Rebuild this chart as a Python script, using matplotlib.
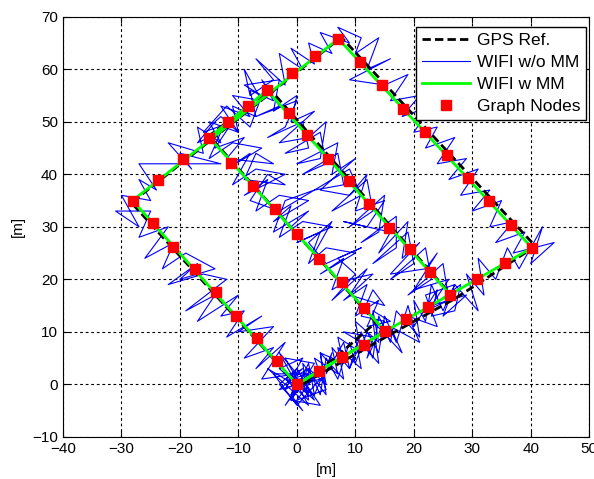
import matplotlib
matplotlib.use('Agg')
import matplotlib.pyplot as plt
import numpy as np

plt.rcParams['font.family'] = ['Liberation Sans', 'DejaVu Sans']

# Graph nodes (red squares)
node_x = [0, -3.4, -6.9, -10.4, -13.9, -17.4, -21.2, -24.6, -28.1,
          -23.7, -19.4, -15.0, -11.7, -8.4, -5.1, -0.8, 3.1, 7.1,
          10.8, 14.6, 18.2, 21.9, 25.6, 29.2, 32.9, 36.7, 40.2,
          35.6, 30.8, 26.2, 22.5, 18.7, 15.1, 11.5, 7.7, 3.8,
          -11.3, -7.5, -3.8, 0.0, 3.8, 7.7, 11.5,
          -1.4, 1.8, 5.4, 9.0, 12.3, 15.8, 19.4, 22.7]
node_y = [0, 4.4, 8.9, 13.1, 17.5, 21.9, 26.1, 30.7, 35.0,
          39.0, 42.9, 47.0, 50.0, 53.0, 56.0, 59.3, 62.5, 65.8,
          61.4, 57.0, 52.5, 48.1, 43.7, 39.2, 34.9, 30.4, 26.0,
          23.1, 20.1, 17.1, 14.7, 12.4, 10.1, 7.4, 5.2, 2.5,
          42.2, 37.8, 33.3, 28.6, 23.8, 19.4, 14.6,
          51.6, 47.4, 43.0, 38.7, 34.4, 29.8, 25.7, 21.3]

# map-matched route (green), corner to corner along the graph
mm_x = [0, -28.1, 7.1, 40.2, 26.2, 15.1, 0, 15.1, -15.0, -5.1, 26.2]
mm_y = [0, 35.0, 65.8, 26.0, 17.1, 10.1, 0, 10.1, 47.0, 56.0, 17.1]

# GPS reference (black dashed)
gps_x = [0.3, -28.3, 7.6, 40.8, 27.0, 15.5, 0.3, 7.0, 13.5, -15.0, -4.6, 26.8]
gps_y = [-0.4, 34.6, 66.1, 26.3, 16.3, 9.2, -0.4, 5.5, 11.8, 47.3, 56.2, 16.5]

# raw WIFI positions without map matching (blue), one list per leg of the walk
# start tangle + left edge
leg1_x = [0, 3, -2, 1, -3, 4, 0, -4, 2, -1, 3, -2, 1, -5, 2, -3, 0, -6, -2, -7,
          -4, -9, -4, -10, -6, -12, -9, -13, -10, -17, -14, -19, -12, -16, -22,
          -17, -20, -14, -19, -23, -21, -26, -22, -27, -25, -31, -27, -30, -25, -27]
leg1_y = [0, -2, 1, 3, -1, 1, -4, 2, 2, -3, 4, 5, -1, 3, -4, 6, 2, 1, 8, 3,
          7, 5, 11, 10, 13, 9, 14, 13, 17, 12, 17, 14, 20, 21, 19,
          23, 20, 22, 25, 22, 27, 24, 30, 28, 33, 33, 30, 36, 35, 39]
# top-left edge
leg2_x = [-24, -27, -13, -20, -18, -22, -16, -17, -13, -15, -10, -13, -8, -11,
          -6, -9, -8, -4, -7, -2, -3, 1, -1, 3, 2, 6, 4, 9, 7, 11]
leg2_y = [37, 42, 42, 44, 41, 46, 44, 49, 46, 50, 48, 53, 51, 55,
          54, 60, 55, 58, 62, 57, 63, 60, 64, 61, 65, 63, 67, 65, 68, 66]
# top-right edge
leg3_x = [10, 14, 12, 16, 9, 15, 19, 16, 21, 18, 23, 20, 24, 22, 27, 24, 29, 26,
          31, 28, 33, 30, 35, 33, 37, 34, 39, 37, 44, 40, 42]
leg3_y = [63, 66, 60, 62, 58, 57, 59, 54, 55, 51, 53, 48, 49, 45, 47, 42, 43, 39,
          41, 36, 37, 33, 35, 30, 31, 27, 29, 25, 27, 23, 30]
# bottom edge back to the start
leg4_x = [38, 36, 34, 31, 32, 29, 31, 27, 25, 23, 22, 20, 21, 17, 16, 14, 13, 11,
          9, 8, 5, 6, 3, 2, -1, 4, 1, -2, 2, -1]
leg4_y = [22, 26, 20, 24, 17, 21, 14, 19, 14, 19, 12, 16, 9, 14, 8, 13, 5, 10,
          3, 8, 2, 6, -2, 4, -3, -4, 1, -4, 2, 1]
# second loop: out to the lower diagonal, up it
leg5_x = [2, 5, 4, 8, 7, 11, 10, 14, 13, 16, 12, 14, 10, 12, 8, 13, 9, 6, 8, 4,
          10, 5, 2, 4, 0, 6, 1, -3, -1, -4, 2, -3, -7, -5, -9, -2, -7, -11, -8,
          -12, -6, -11, -15, -13, -17, -14]
leg5_y = [3, 0, 6, 4, 9, 6, 12, 8, 14, 12, 11, 16, 13, 19, 16, 21, 20, 18, 24, 21,
          25, 26, 23, 29, 27, 30, 31, 28, 34, 31, 35, 36, 33, 39, 36, 40, 41, 38, 44,
          41, 45, 46, 43, 48, 46, 50]
# short piece of top-left edge, then down the upper diagonal
leg6_x = [-13, -10, -11, -7, -8, -4, -6, -3, -7, 0, -2, -5, 1, 2, -2, 4, 5, 1, 7,
          8, 3, 9, 11, 6, 12, 13, 9, 15, 14, 11, 17, 17, 13, 19, 20, 16, 22, 23,
          19, 25, 26, 22, 28, 27]
leg6_y = [51, 48, 53, 51, 56, 54, 58, 53, 51, 54, 49, 47, 50, 45, 44, 48, 42, 40, 44,
          38, 37, 41, 36, 33, 39, 33, 30, 36, 29, 27, 32, 26, 23, 29, 23, 20, 26, 20,
          17, 23, 16, 14, 19, 14]
# bottom edge to the origin
leg7_x = [23, 24, 20, 19, 17, 15, 14, 12, 10, 9, 7, 5, 4, 2, -1, 1, -3, 0, 3, -2, 1]
leg7_y = [13, 18, 11, 15, 8, 13, 6, 10, 4, 8, 1, 5, -2, 3, -2, -5, 0, 3, -3, 2, 0]
# third pass: origin out to the lower diagonal
leg8_x = [2, -3, 1, -2, 4, 0, 5, 3, 7, 6, 9, 11, 8, 13, 12, 15]
leg8_y = [-2, 3, 5, -1, 3, -3, -1, 5, 2, 7, 3, 8, 10, 9, 5, 12]
# up the lower diagonal again
leg9_x = [11, 13, 15, 9, 12, 6, 10, 7, 11, 5, 2, 6, 3, -1, 2, -4, -2, 3, -3, -8,
          -5, -2, -9, -7, -4, -12, -9, -14, -11, -16]
leg9_y = [13, 18, 15, 17, 22, 16, 21, 24, 26, 23, 27, 31, 25, 30, 33, 29, 35, 37,
          33, 35, 40, 38, 39, 44, 42, 43, 47, 45, 50, 48]
# over to the upper diagonal and down it again
leg10_x = [-12, -8, -6, -9, -3, -4, 0, -1, 3, -3, 2, 5, 4, 0, 7, 6, 10, 4, 9, 12,
           10, 15, 12, 8, 16, 14, 19, 18, 21, 16, 22, 24, 20, 26, 23, 29, 25, 27]
leg10_y = [53, 49, 55, 57, 58, 52, 55, 50, 52, 46, 47, 50, 43, 42, 46, 40, 43, 37,
           36, 40, 33, 35, 30, 31, 29, 25, 31, 24, 27, 21, 22, 25, 18, 20, 15, 17,
           13, 19]
# last run home along the bottom edge
leg11_x = [22, 24, 19, 21, 16, 18, 13, 14, 10, 11, 7, 8, 4, 5, 1, 2, -2, 3, -1, 0]
leg11_y = [17, 11, 13, 8, 11, 6, 12, 4, 9, 3, 7, 1, 6, -2, 4, -3, 1, 1, -2, 1]

wifi_x = (leg1_x + leg2_x + leg3_x + leg4_x + leg5_x + leg6_x + leg7_x
          + leg8_x + leg9_x + leg10_x + leg11_x)
wifi_y = (leg1_y + leg2_y + leg3_y + leg4_y + leg5_y + leg6_y + leg7_y
          + leg8_y + leg9_y + leg10_y + leg11_y)

fig, ax = plt.subplots(figsize=(5.94, 4.79), dpi=100)
fig.subplots_adjust(left=0.106, right=0.992, bottom=0.088, top=0.965)

ax.plot(gps_x, gps_y, color='black', linestyle=(0, (3, 1.5)), linewidth=2.0, label='GPS Ref.', zorder=3)
ax.plot(wifi_x, wifi_y, color='#0000ff', linewidth=0.8, label='WIFI w/o MM', zorder=2)
ax.plot(mm_x, mm_y, color='#00ff00', linewidth=2.0, label='WIFI w MM', zorder=4)
ax.plot(node_x, node_y, linestyle='none', marker='s', markersize=6.5,
        color='#ff0000', markeredgecolor='#ff0000', label='Graph Nodes', zorder=5)

ax.set_xlim(-40, 50)
ax.set_ylim(-10, 70)
ax.set_xticks(np.arange(-40, 51, 10))
ax.set_yticks(np.arange(-10, 71, 10))
ax.grid(True, color='black', linestyle=(0, (2.5, 2.5)), linewidth=0.8)
ax.tick_params(direction='in', top=True, right=True, labelsize=11, length=4)
for s in ax.spines.values():
    s.set_linewidth(0.8)
ax.set_xlabel('[m]', fontsize=11, labelpad=5.5)
ax.set_ylabel('[m]', fontsize=11, labelpad=5.5)

leg = ax.legend(loc='upper right', bbox_to_anchor=(0.994, 0.976), borderaxespad=0,
                fontsize=12.5, fancybox=False, framealpha=1, edgecolor='black',
                handlelength=2.75, handletextpad=0.4, borderpad=0.35, labelspacing=0.4)
leg.get_frame().set_linewidth(1.0)

fig.savefig('out.png', dpi=100)
